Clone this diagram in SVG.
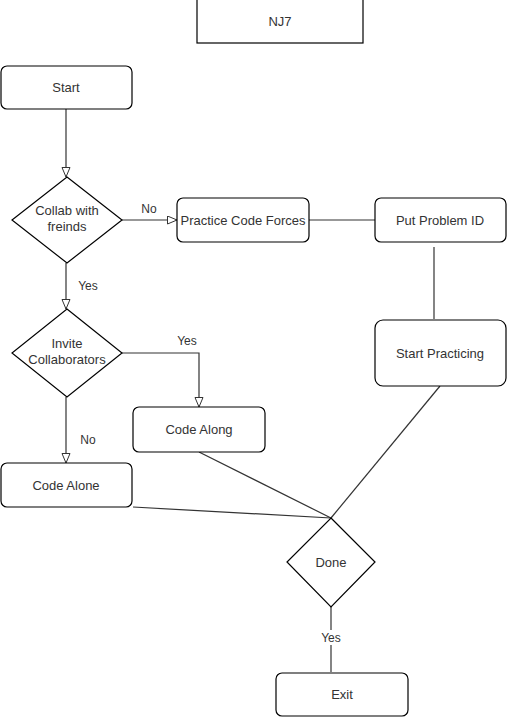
<svg xmlns="http://www.w3.org/2000/svg" width="507" height="717" viewBox="0 0 507 717">
<style>
.box{fill:#fff;stroke:#000;stroke-width:1.2}
.t{font-family:"Liberation Sans",Arial,sans-serif;font-size:13px;fill:#333;text-anchor:middle;dominant-baseline:central}
.e{fill:none;stroke:#333;stroke-width:1.2}
.lbl{font-family:"Liberation Sans",Arial,sans-serif;font-size:12px;fill:#333;text-anchor:middle;dominant-baseline:central}
</style>
<defs>
<marker id="arr" markerUnits="userSpaceOnUse" markerWidth="12" markerHeight="10" refX="10" refY="4.5" orient="auto">
<path d="M0.5,0.5 L10,4.5 L0.5,8.5 Z" fill="#fff" stroke="#333" stroke-width="1"/>
</marker>
</defs>
<rect width="507" height="717" fill="#fff"/>
<g id="connectors">
<line class="e" x1="66" y1="109" x2="66" y2="177" marker-end="url(#arr)"/>
<line class="e" x1="122" y1="220" x2="177" y2="220" marker-end="url(#arr)"/>
<line class="e" x1="309" y1="220" x2="375" y2="220"/>
<line class="e" x1="434" y1="247" x2="434" y2="319"/>
<line class="e" x1="66" y1="263" x2="66" y2="309" marker-end="url(#arr)"/>
<polyline class="e" points="122,353 199,353 199,407" marker-end="url(#arr)"/>
<line class="e" x1="66" y1="397" x2="66" y2="463" marker-end="url(#arr)"/>
<line class="e" x1="133" y1="507" x2="331" y2="518"/>
<line class="e" x1="199" y1="452" x2="331" y2="518"/>
<line class="e" x1="440" y1="386" x2="331" y2="518"/>
<line class="e" x1="331" y1="607" x2="331" y2="672"/>
<text class="lbl" x="149" y="209">No</text>
<text class="lbl" x="88" y="286">Yes</text>
<text class="lbl" x="187" y="341">Yes</text>
<text class="lbl" x="88" y="440">No</text>
<rect x="318" y="630" width="26" height="15" fill="#fff"/>
<text class="lbl" x="331" y="638">Yes</text>
</g>
<g id="nj7"><rect class="box" x="197" y="-1" width="166" height="44"/><text class="t" x="280" y="21">NJ7</text></g>
<g id="start"><rect class="box" x="1" y="66" width="131" height="43" rx="6"/><text class="t" x="66" y="87">Start</text></g>
<g id="collab"><polygon class="box" points="67,177 122,220 67,263 12,220"/><text class="t" x="67" y="210">Collab with</text><text class="t" x="67" y="226">freinds</text></g>
<g id="practice"><rect class="box" x="177" y="198" width="132" height="44" rx="6"/><text class="t" x="243" y="220">Practice Code Forces</text></g>
<g id="putid"><rect class="box" x="375" y="198" width="131" height="44" rx="6"/><text class="t" x="440" y="220">Put Problem ID</text></g>
<g id="startpracticing"><rect class="box" x="375" y="320" width="131" height="66" rx="8"/><text class="t" x="440" y="353">Start Practicing</text></g>
<g id="invite"><polygon class="box" points="67,309 122,353 67,397 12,353"/><text class="t" x="67" y="343">Invite</text><text class="t" x="67" y="359">Collaborators</text></g>
<g id="codealong"><rect class="box" x="133" y="407" width="132" height="45" rx="6"/><text class="t" x="199" y="429">Code Along</text></g>
<g id="codealone"><rect class="box" x="1" y="463" width="131" height="44" rx="6"/><text class="t" x="66" y="485">Code Alone</text></g>
<g id="done"><polygon class="box" points="331,518 375,562 331,607 287,562"/><text class="t" x="331" y="562">Done</text></g>
<g id="exit"><rect class="box" x="276" y="673" width="132" height="43" rx="6"/><text class="t" x="342" y="694">Exit</text></g>
</svg>
